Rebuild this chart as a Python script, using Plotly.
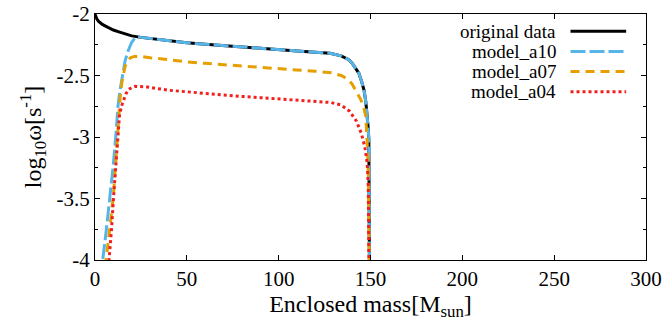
import plotly.graph_objects as go

# ---- data ----
x_orig = [0, 1, 2, 4, 6, 8, 10, 13, 16, 20, 25, 30, 40, 50, 60, 70, 80, 90, 100, 110, 120,
          128, 134, 138, 140, 142, 143.6, 145, 146.5, 147.5, 148.2, 148.7, 149.1, 149.3, 149.4, 149.5]
y_orig = [-2.00, -2.04, -2.06, -2.085, -2.10, -2.115, -2.13, -2.145, -2.16, -2.178, -2.19, -2.20,
          -2.22, -2.234, -2.246, -2.258, -2.27, -2.28, -2.29, -2.30, -2.31,
          -2.32, -2.34, -2.37, -2.40, -2.44, -2.48, -2.54, -2.62, -2.72, -2.82, -2.92, -3.02, -3.23, -3.6, -4.3]

x_a10 = [2.5, 4.2, 6.2, 8.2, 9.8, 11.3, 12.5, 13.6, 14.8, 16.4, 18.0, 19.8, 21.5, 23, 25, 30, 40, 50, 60, 70, 80,
         90, 100, 110, 120, 128, 134, 138, 140, 142, 143.6, 145, 146.5, 147.5, 148.2, 148.7, 149.1, 149.3, 149.4, 149.5]
y_a10 = [-4.3, -4.0, -3.75, -3.5, -3.25, -3.0, -2.75, -2.62, -2.5, -2.38, -2.3, -2.235, -2.2, -2.185, -2.19, -2.20,
         -2.22, -2.234, -2.246, -2.258, -2.27, -2.28, -2.29, -2.30, -2.31,
         -2.32, -2.34, -2.37, -2.40, -2.44, -2.48, -2.54, -2.62, -2.72, -2.82, -2.92, -3.02, -3.23, -3.6, -4.3]

x_a07 = [4.3, 6.0, 8.0, 10.0, 11.5, 12.8, 13.7, 14.6, 15.5, 16.4, 17.8, 19.2, 21.5, 24.6, 30, 40, 50, 60, 70, 80,
         90, 100, 110, 120, 128.6, 134, 137.7, 140, 142.3, 144.5, 146, 147.4, 148.2, 148.8, 149.1, 149.3]
y_a07 = [-4.3, -4.0, -3.75, -3.48, -3.16, -2.83, -2.68, -2.56, -2.48, -2.425, -2.38, -2.357, -2.345, -2.344, -2.355,
         -2.375, -2.389, -2.401, -2.413, -2.425, -2.435, -2.445, -2.455, -2.465,
         -2.478, -2.50, -2.53, -2.57, -2.63, -2.69, -2.74, -2.83, -3.05, -3.3, -3.7, -4.3]

x_a04 = [6.0, 7.8, 9.0, 10.0, 11.0, 11.9, 13.3, 14.4, 15.5, 16.8, 18.2, 20.0, 21.9, 25, 28.3, 40, 50, 60, 70, 80,
         90, 100, 110, 120, 128.6, 134, 138.6, 142.3, 145, 146.9, 148.2, 148.8, 149.1, 149.3]
y_a04 = [-4.3, -4.0, -3.75, -3.51, -3.3, -3.10, -2.83, -2.75, -2.70, -2.65, -2.615, -2.597, -2.588, -2.59, -2.593,
         -2.62, -2.634, -2.646, -2.658, -2.67, -2.68, -2.69, -2.70, -2.71,
         -2.72, -2.74, -2.79, -2.87, -2.97, -3.08, -3.21, -3.4, -3.7, -4.3]

series_names = ["original data", "model_a10", "model_a07", "model_a04"]
series_colors = ["#000000", "#56b4e9", "#e69f00", "#f21f1f"]
series_dash = ["solid", "15px,4px", "9px,6px", "3px,3px"]
series_width = [3, 3, 3, 3]

x_ticks = [0, 50, 100, 150, 200, 250, 300]
x_ticktext = ["0", "50", "100", "150", "200", "250", "300"]
y_ticks = [-4, -3.5, -3, -2.5, -2]
y_ticktext = ["-4", "-3.5", "-3", "-2.5", "-2"]

xs = [x_orig, x_a10, x_a07, x_a04]
ys = [y_orig, y_a10, y_a07, y_a04]

FONT = "Times New Roman, Liberation Serif, serif"

fig = go.Figure()
for name, x, y, c, d, w in zip(series_names, xs, ys, series_colors, series_dash, series_width):
    fig.add_trace(go.Scatter(x=x, y=y, mode="lines", name=name,
                             line=dict(color=c, dash=d, width=w), showlegend=False))

# manual legend (text to the left of the line sample, like gnuplot)
leg_y0 = 0.93
leg_dy = 0.082
for i, (name, c, d) in enumerate(zip(series_names, series_colors, series_dash)):
    yy = leg_y0 - i * leg_dy
    fig.add_annotation(xref="paper", yref="paper", x=0.84, y=yy, text=name,
                       showarrow=False, xanchor="right", yanchor="middle",
                       font=dict(family=FONT, size=19, color="black"))
    fig.add_shape(type="line", xref="paper", yref="paper", x0=0.863, x1=0.964, y0=yy, y1=yy,
                  line=dict(color=c, dash=d, width=3))

fig.update_layout(
    width=662, height=327,
    margin=dict(l=95, r=16, t=14, b=67),
    paper_bgcolor="white", plot_bgcolor="white",
    font=dict(family=FONT, size=20, color="black"),
    xaxis=dict(range=[0, 300], tickvals=x_ticks, ticktext=x_ticktext, automargin=False,
               ticks="inside", ticklen=5, tickcolor="black", showline=True, linecolor="black",
               linewidth=1, mirror="ticks", showgrid=False, zeroline=False,
               tickfont=dict(family=FONT, size=21),
               title=dict(text="Enclosed mass[M<sub>sun</sub>]", font=dict(family=FONT, size=24), standoff=4)),
    yaxis=dict(range=[-4, -2], tickvals=y_ticks, ticktext=y_ticktext, automargin=False,
               ticks="inside", ticklen=5, tickcolor="black", showline=True, linecolor="black",
               linewidth=1, mirror="ticks", showgrid=False, zeroline=False,
               tickfont=dict(family=FONT, size=21),
               minor=dict(tickvals=[-3.75, -3.25, -2.75, -2.25], ticks="inside", ticklen=3, tickcolor="black"),
               title=dict(text="log<sub>10</sub>ω[s<sup>-1</sup>]", font=dict(family=FONT, size=24), standoff=8)),
)

fig.write_html("out.html")
